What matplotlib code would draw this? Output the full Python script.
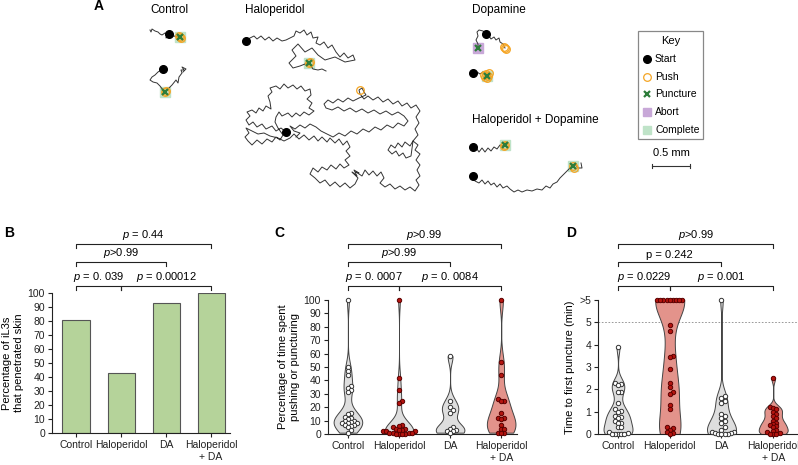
import numpy as np
import matplotlib
matplotlib.use("Agg")
import matplotlib.pyplot as plt

plt.rcParams['font.family'] = ['Liberation Sans', 'DejaVu Sans']
plt.rcParams['mathtext.fontset'] = 'custom'
plt.rcParams['mathtext.it'] = 'Liberation Sans:italic'
plt.rcParams['mathtext.rm'] = 'Liberation Sans'

# ---------------------------------------------------------------------------
# Data
# ---------------------------------------------------------------------------
groups = ['Control', 'Haloperidol', 'DA', 'Haloperidol\n+ DA']

# B: percent that penetrated skin
pct_penetrated = [81, 43, 93, 100]

# C: percentage of time spent pushing or puncturing
c_control = [100, 50, 47, 44, 36, 34, 33, 31, 16, 15, 13, 12, 11, 10, 10, 9,
             8, 8, 8, 7, 7, 6, 5, 3, 1]
c_halo = [100, 42, 33, 25, 23, 7, 6, 5, 4, 4, 3, 3, 2, 2, 2, 1, 1, 1, 1,
          0, 0, 0, 0]
c_da = [58, 25, 20, 18, 16, 5, 4, 3, 2, 2, 1]
c_halo_da = [100, 54, 44, 26, 25, 25, 16, 12, 12, 11, 7, 4, 4, 1, 1, 1]

# D: time to first puncture (min); 6 means ">5"
d_control = [3.9, 2.3, 2.25, 2.2, 1.9, 1.9, 1.4, 1.1, 1.05, 1.0, 0.8, 0.75,
             0.7, 0.6, 0.5, 0.5, 0.3, 0.3, 0.1, 0.05, 0, 0, 0, 0, 0]
d_halo = [6, 6, 6, 6, 6, 6, 6, 6, 6, 4.9, 4.6, 3.5, 3.45, 2.9, 2.3, 2.1, 1.9,
          1.8, 1.3, 1.1, 0.3, 0.25, 0.2, 0.1, 0.05, 0]
d_da = [6, 1.7, 1.6, 1.5, 1.4, 0.9, 0.8, 0.7, 0.6, 0.5, 0.3, 0.2, 0.1, 0.1,
        0.05, 0.05, 0, 0, 0, 0]
d_halo_da = [2.5, 1.2, 1.15, 1.1, 1.0, 0.9, 0.8, 0.7, 0.6, 0.5, 0.45, 0.4,
             0.35, 0.3, 0.2, 0.15, 0.1, 0.05, 0, 0, 0]

# significance labels: (i, j, level, text)
b_pvals = [(0, 1, 0, r'$p$ = 0. 039'), (1, 3, 0, r'$p$ = 0.00012'),
           (0, 2, 1, r'$p$>0.99'), (0, 3, 2, r'$p$ = 0.44')]
c_pvals = [(0, 1, 0, r'$p$ = 0. 0007'), (1, 3, 0, r'$p$ = 0. 0084'),
           (0, 2, 1, r'$p$>0.99'), (0, 3, 2, r'$p$>0.99')]
d_pvals = [(0, 1, 0, r'$p$ = 0.0229'), (1, 3, 0, r'$p$ = 0.001'),
           (0, 2, 1, 'p = 0.242'), (0, 3, 2, r'$p$>0.99')]
d_ticklabels = ['0', '1', '2', '3', '4', '5', '>5']

# A: example tracks (panel coordinates, 76 units = 1 mm)
ctrl_track1 = [(150, 30), (151, 32), (152, 29), (155, 31), (158, 32), (160, 34),
               (162, 35), (165, 33), (169, 34), (166, 38), (167, 36), (170, 37),
               (174, 36), (178, 37), (180, 37)]
ctrl_track2 = [(163, 69), (158, 72), (155, 75), (152, 77), (150, 80), (153, 82),
               (157, 83), (160, 86), (163, 90), (165, 92), (168, 89), (172, 85),
               (176, 80), (178, 83), (179, 77), (182, 73), (181, 70), (184, 70),
               (182, 67), (186, 69), (183, 72)]
halo_track1 = [(246, 41), (250, 38), (254, 36), (257, 39), (261, 36), (265, 40),
               (269, 37), (273, 41), (277, 38), (282, 41), (286, 40), (290, 38),
               (294, 36), (296, 31), (300, 33), (304, 30), (307, 35), (311, 32),
               (313, 38), (318, 37), (316, 43), (320, 45), (324, 42), (328, 48),
               (332, 45), (336, 52), (340, 57), (344, 53), (348, 58), (353, 55),
               (355, 60), (345, 62), (335, 57), (325, 60), (318, 55), (312, 48),
               (305, 52), (298, 44), (292, 50), (296, 56), (289, 63), (293, 68),
               (300, 66), (305, 64), (309, 63), (313, 69), (318, 70), (322, 69),
               (326, 71)]
halo_track2 = [(286, 132), (281, 128), (276, 131), (272, 126), (266, 129),
               (262, 124), (257, 127), (253, 122), (249, 125), (246, 120),
               (250, 116), (247, 112), (252, 110), (256, 113), (259, 108),
               (263, 111), (266, 106), (271, 109), (270, 102), (268, 96),
               (272, 92), (270, 88), (276, 86), (280, 89), (284, 84), (288, 88),
               (293, 85), (297, 89), (301, 86), (305, 91), (310, 89), (311, 95),
               (307, 99), (312, 103), (309, 108), (314, 111), (309, 115),
               (304, 112), (300, 116), (296, 113), (292, 117), (288, 113),
               (282, 116), (279, 112), (276, 117), (275, 122), (278, 128),
               (283, 135), (280, 140), (276, 137), (272, 142), (267, 139),
               (262, 144), (257, 140), (252, 145), (248, 141), (245, 137),
               (249, 133), (246, 128), (252, 131), (258, 134), (264, 133),
               (270, 136), (278, 138), (284, 141), (290, 138), (294, 134),
               (299, 139), (304, 135), (309, 140), (314, 136), (318, 141),
               (322, 137), (327, 142), (330, 138), (335, 143), (339, 139),
               (343, 145), (347, 141), (350, 147), (346, 151), (350, 156),
               (345, 160), (349, 165), (344, 168), (340, 164), (336, 169),
               (331, 165), (327, 170), (322, 167), (318, 172), (313, 168),
               (310, 174), (315, 178), (320, 183), (325, 180), (330, 186),
               (335, 182), (340, 187), (345, 183), (350, 188), (355, 184),
               (358, 178), (352, 172), (357, 176), (354, 170), (359, 173),
               (356, 172), (362, 176), (365, 170), (369, 175),
               (373, 171), (377, 176), (381, 172), (384, 178), (380, 183),
               (385, 187), (390, 184), (395, 189), (400, 186), (405, 190),
               (410, 187), (415, 191), (419, 185), (416, 180), (420, 176),
               (417, 170), (420, 165), (416, 160), (420, 154), (415, 150),
               (418, 145), (413, 141), (410, 146), (405, 142), (402, 147),
               (398, 143), (395, 148), (391, 145), (388, 150), (392, 154),
               (396, 151), (399, 156), (403, 153), (406, 158), (411, 156),
               (413, 141), (418, 135), (415, 129), (419, 123), (416, 117),
               (420, 111), (416, 105), (411, 108), (407, 103), (402, 106),
               (398, 101), (393, 104), (388, 99), (383, 102), (378, 97),
               (373, 100), (368, 96), (364, 99), (360, 94), (359, 90),
               (362, 88), (364, 92), (366, 95), (359, 98), (353, 101),
               (348, 98), (343, 102), (338, 99), (333, 103), (328, 100),
               (324, 104), (326, 108), (332, 110), (338, 107), (344, 111),
               (350, 108), (356, 112), (362, 109), (368, 113), (374, 110),
               (380, 114), (386, 111), (392, 115), (398, 112), (404, 116),
               (408, 121), (404, 126), (398, 123), (393, 128), (387, 125),
               (381, 130), (375, 127), (369, 132), (363, 129), (357, 134),
               (351, 131), (345, 136), (339, 133), (333, 137), (327, 134),
               (321, 131), (316, 127), (310, 124), (305, 128), (300, 125),
               (295, 129), (290, 126), (294, 131), (300, 133), (296, 137)]
da_track1 = [(478, 48), (478, 44), (476, 40), (478, 36), (477, 32), (479, 30),
             (483, 31), (486, 34), (489, 36), (491, 39), (494, 37), (496, 40),
             (499, 38), (500, 42), (503, 44), (505, 48)]
da_track2 = [(473, 73), (477, 72), (480, 74), (483, 72), (486, 75), (487, 76)]
hd_track1 = [(473, 147), (477, 149), (479, 152), (482, 148), (485, 152),
             (488, 148), (491, 151), (494, 147), (497, 149), (500, 145),
             (503, 146), (505, 145)]
hd_track2 = [(473, 176), (475, 181), (479, 183), (482, 180), (485, 184),
             (488, 181), (491, 185), (494, 183), (497, 187), (500, 184),
             (503, 188), (507, 186), (510, 189), (514, 192), (518, 190),
             (522, 192), (527, 190), (532, 191), (537, 189), (542, 190),
             (546, 186), (550, 188), (553, 184), (557, 182), (560, 178),
             (563, 175), (566, 172), (569, 169), (572, 166), (576, 165),
             (578, 168), (582, 168), (581, 163)]
tracks = [ctrl_track1, ctrl_track2, halo_track1, halo_track2, da_track1,
          da_track2, hd_track1, hd_track2]

starts = [(169, 34), (163, 69), (246, 41), (286, 132), (486, 34), (473, 73),
          (473, 147), (473, 176)]
push_pts = [(180, 37), (179, 36), (181, 38), (165, 92), (166, 91), (309, 63),
            (310, 62), (360, 90), (505, 48), (504, 47), (506, 49), (486, 74),
            (488, 76), (485, 77), (489, 73), (487, 78), (484, 75), (505, 145),
            (504, 146), (573, 166), (574, 168)]
puncture_pts = [(180, 37), (165, 92), (309, 63), (478, 48), (487, 76),
                (505, 145), (573, 166)]
abort_pts = [(478, 48)]
complete_pts = [(180, 37), (165, 92), (309, 63), (487, 76), (505, 145),
                (573, 166)]

# ---------------------------------------------------------------------------
# Styling
# ---------------------------------------------------------------------------
AX_COL = '#222222'
GREEN = '#b5d39a'
GRAY_V = '#dedede'
RED_V = '#e3938b'
RED_PT = '#b5140f'
PUSH_COL = '#f5a524'
PUNCT_COL = '#2e7d3a'
ABORT_COL = '#c8a8d8'
COMPL_COL = '#bfe3c8'
FS = 7.5

W, H = 798, 465
fig = plt.figure(figsize=(W / 100, H / 100), dpi=100)


def px_axes(left, top, right, bottom):
    return fig.add_axes([left / W, 1 - bottom / H, (right - left) / W,
                         (bottom - top) / H])


def style_axes(ax):
    for s in ['top', 'right']:
        ax.spines[s].set_visible(False)
    for s in ['left', 'bottom']:
        ax.spines[s].set_color(AX_COL)
        ax.spines[s].set_linewidth(0.8)
    ax.tick_params(direction='out', length=3, width=0.8, colors=AX_COL,
                   labelsize=FS, pad=2)


def brackets(ax, pvals, levels, tick):
    tr = ax.get_xaxis_transform()
    for i, j, lev, txt in pvals:
        y = levels[lev]
        ax.plot([i, i, j, j], [y - tick, y, y, y - tick], color=AX_COL,
                lw=0.8, transform=tr, clip_on=False)
        ax.text((i + j) / 2, y + 0.012, txt, transform=tr, ha='center',
                va='bottom', fontsize=8)


def swarm(vals, ppx, ppy, d=4.4, sep=0.72):
    # simple beeswarm in pixel space, points allowed to overlap a little
    vals = np.asarray(vals, float)
    offs = np.zeros(len(vals))
    placed = []
    for i in np.argsort(vals):
        y = vals[i] * ppy
        k = 0
        while True:
            cands = [0.0] if k == 0 else [k * d * sep, -k * d * sep]
            done = False
            for x in cands:
                if all((x - px) ** 2 + (y - py) ** 2 >= (d * sep * 0.98) ** 2
                       for px, py in placed):
                    placed.append((x, y))
                    offs[i] = x / ppx
                    done = True
                    break
            if done:
                break
            k += 1
    return offs


def violins(ax, data, colors, ptcols, ppx, ppy, bw):
    parts = ax.violinplot(data, positions=range(4), widths=0.56,
                          showextrema=False, bw_method=bw)
    for body, c in zip(parts['bodies'], colors):
        body.set_facecolor(c)
        body.set_edgecolor('#444444')
        body.set_linewidth(0.7)
        body.set_alpha(1)
    for k, (vals, (fc, ec)) in enumerate(zip(data, ptcols)):
        xo = swarm(vals, ppx, ppy)
        ax.scatter(k + xo, vals, s=10, facecolor=fc, edgecolor=ec,
                   linewidth=0.7, zorder=3, clip_on=False)


# ---------------------------------------------------------------------------
# Panel A
# ---------------------------------------------------------------------------
axA = fig.add_axes([0, 1 - 230 / H, 1, 230 / H])
axA.set_xlim(0, W)
axA.set_ylim(230, 0)
axA.axis('off')
for t in tracks:
    xs, ys = zip(*t)
    axA.plot(xs, ys, color='#333333', lw=0.7, zorder=2)
for x, y in complete_pts:
    axA.plot(x, y, 's', ms=6.5, color=COMPL_COL, zorder=1)
for x, y in abort_pts:
    axA.plot(x, y, 's', ms=6.5, color=ABORT_COL, zorder=1)
for x, y in push_pts:
    axA.plot(x, y, 'o', ms=5.5, mfc='none', mec=PUSH_COL, mew=0.9, zorder=3)
for x, y in puncture_pts:
    axA.plot(x, y, 'x', ms=4.5, mec=PUNCT_COL, mew=1.6, zorder=4)
for x, y in starts:
    axA.plot(x, y, 'o', ms=5.5, color='black', zorder=5)

axA.text(99, 6, 'A', fontsize=10, fontweight='bold', ha='center', va='center')
for x, y, s in [(150, 10, 'Control'), (245, 10, 'Haloperidol'),
                (472, 10, 'Dopamine'), (472, 120, 'Haloperidol + Dopamine')]:
    axA.text(x, y, s, fontsize=8.5, ha='left', va='center')

# key
axA.add_patch(plt.Rectangle((638, 31), 65, 108, fill=False, ec='#888888',
                            lw=0.9))
axA.text(670.5, 41, 'Key', fontsize=8, ha='center', va='center')
key_items = [('o', dict(color='black'), 'Start'),
             ('o', dict(mfc='none', mec=PUSH_COL, mew=0.9), 'Push'),
             ('x', dict(mec=PUNCT_COL, mew=1.6, ms=4.5), 'Puncture'),
             ('s', dict(color=ABORT_COL, ms=6), 'Abort'),
             ('s', dict(color=COMPL_COL, ms=6), 'Complete')]
for k, (m, kw, lab) in enumerate(key_items):
    y = 59 + k * 17.7
    kw.setdefault('ms', 5.5)
    axA.plot(647, y, m, **kw)
    axA.text(655, y, lab, fontsize=7.5, ha='left', va='center')

axA.text(671, 153, '0.5 mm', fontsize=8, ha='center', va='center')
axA.plot([652, 690], [166, 166], color='#333333', lw=0.8)
axA.plot([652, 652], [164, 168], color='#333333', lw=0.8)
axA.plot([690, 690], [164, 168], color='#333333', lw=0.8)

# ---------------------------------------------------------------------------
# Panel B
# ---------------------------------------------------------------------------
axB = px_axes(52, 293, 230, 433)
style_axes(axB)
axB.bar(range(4), pct_penetrated, width=0.6, color=GREEN, edgecolor='#555555',
        linewidth=0.8)
axB.set_xlim(-0.533, 3.42)
axB.set_ylim(0, 100)
axB.set_yticks(range(0, 101, 10))
axB.set_xticks(range(4))
axB.set_xticklabels(groups)
axB.set_ylabel('Percentage of iL3s\nthat penetrated skin', fontsize=8,
               labelpad=3)
brackets(axB, b_pvals, [1.05, 1.221, 1.35], 0.029)
fig.text(4 / W, 1 - 233 / H, 'B', fontsize=10, fontweight='bold', va='center')

# ---------------------------------------------------------------------------
# Panel C
# ---------------------------------------------------------------------------
axC = px_axes(328, 300, 517, 434)
style_axes(axC)
violins(axC, [c_control, c_halo, c_da, c_halo_da],
        [GRAY_V, GRAY_V, GRAY_V, RED_V],
        [('white', '#333333'), (RED_PT, '#5a0000'), ('white', '#333333'),
         (RED_PT, '#5a0000')], 51, 1.34, 0.3)
axC.set_xlim(-0.39, 3.31)
axC.set_ylim(0, 100)
axC.set_yticks(range(0, 101, 10))
axC.set_xticks(range(4))
axC.set_xticklabels(groups)
axC.set_ylabel('Percentage of time spent\npushing or puncturing',
               fontsize=8, labelpad=3)
brackets(axC, c_pvals, [1.104, 1.284, 1.418], 0.03)
fig.text(274 / W, 1 - 233 / H, 'C', fontsize=10, fontweight='bold',
         va='center')

# ---------------------------------------------------------------------------
# Panel D
# ---------------------------------------------------------------------------
axD = px_axes(598, 300, 797, 434)
style_axes(axD)
axD.axhline(5, color='#888888', lw=0.6, ls=(0, (2, 2)), zorder=0)
violins(axD, [d_control, d_halo, d_da, d_halo_da],
        [GRAY_V, RED_V, GRAY_V, RED_V],
        [('white', '#333333'), (RED_PT, '#5a0000'), ('white', '#333333'),
         (RED_PT, '#5a0000')], 51.7, 22.33, 0.3)
axD.set_xlim(-0.387, 3.46)
axD.set_ylim(0, 6)
axD.set_yticks(range(7))
axD.set_yticklabels(d_ticklabels)
axD.set_xticks(range(4))
axD.set_xticklabels(groups)
axD.set_ylabel('Time to first puncture (min)', fontsize=8, labelpad=3)
brackets(axD, d_pvals, [1.104, 1.284, 1.418], 0.03)
fig.text(566 / W, 1 - 233 / H, 'D', fontsize=10, fontweight='bold',
         va='center')

fig.savefig('out.png', dpi=100)
